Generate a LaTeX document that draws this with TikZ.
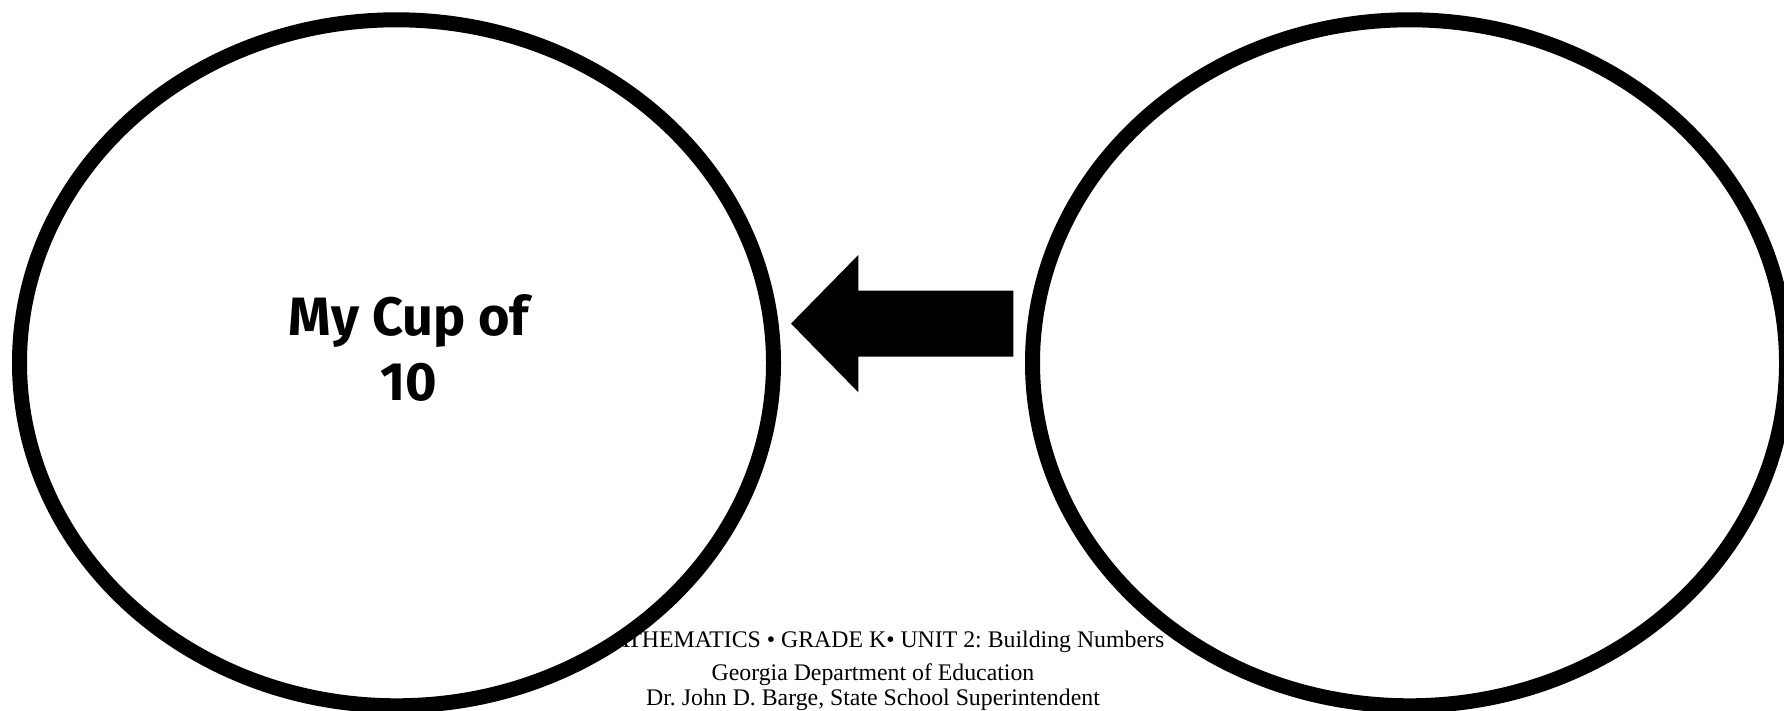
\documentclass[tikz,border=0pt]{standalone}
\usepackage{fontspec}
\usetikzlibrary{shapes.geometric}
\newfontfamily\cupfont{Fira Sans}
\newfontfamily\footfont{Liberation Serif}
\frenchspacing
\begin{document}
\begin{tikzpicture}[x=1pt,y=-1pt,
  cupellipse/.style={ellipse,draw=black,fill=white,line width=15pt,inner sep=0pt,
    minimum width=754pt,minimum height=686pt},
  cuptext/.style={font=\cupfont\bfseries\fontsize{54}{60}\selectfont,anchor=base,inner sep=0pt},
  foottext/.style={font=\footfont\fontsize{23.8}{26}\selectfont,anchor=base,inner sep=0pt},
  blockarrow/.style={fill=black,draw=none}]
\useasboundingbox (0,0) rectangle (1784,711);
\clip (0,0) rectangle (1784,711);
% footer
\node[foottext] (f1) at (878,647.5) {MATHEMATICS • GRADE K• UNIT 2: Building Numbers};
\node[foottext] (f2) at (873,680) {Georgia Department of Education};
\node[foottext] (f3) at (873,705) {Dr. John D. Barge, State School Superintendent};
% ellipses
\node[cupellipse] (left) at (396.5,362.8) {};
\node[cupellipse] (right) at (1409.5,362.8) {};
% label
\node[cuptext] (t1) at (409,335) {My Cup of};
\node[cuptext] (t2) at (409,400) {10};
% arrow
\path[blockarrow] (791,323.6) -- (858.3,255) -- (858.3,290.7) -- (1013.3,290.7)
  -- (1013.3,356.7) -- (858.3,356.7) -- (858.3,392.3) -- cycle;
\end{tikzpicture}
\end{document}
